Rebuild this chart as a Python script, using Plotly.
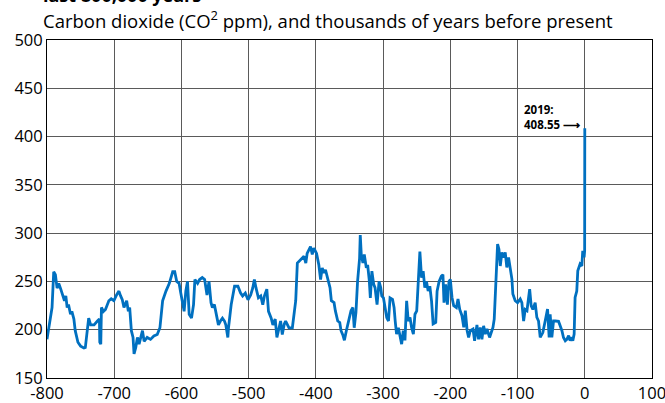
import plotly.graph_objects as go

# thousands of years before present (negative = past)
years = [
    -800, -796, -792.5, -790, -787.5, -785, -782.5, -780, -777.6, -774, -772, -770, -768, -765, -763,
    -760, -758, -754, -750, -745, -743, -740, -738, -735, -730, -725, -722, -721.5, -720, -719, -716,
    -713, -708, -704.5, -700.5, -696.5, -693, -690.5, -688, -685.5, -681.5, -679, -677, -674.5, -672,
    -670.5, -668, -665.5, -663, -658, -655.5, -651, -646, -641, -636, -632, -628, -623, -618, -613,
    -610, -607, -603.5, -601, -598.5, -596, -593.5, -591, -588.5, -585, -582, -580, -576, -573, -569,
    -565.5, -562, -559, -556, -554, -551, -549, -545, -542, -539, -536, -534, -531, -530, -526, -521,
    -516, -512, -509, -505, -501, -497, -494, -491.5, -489, -485.5, -482, -479, -476.5, -473, -470.5,
    -466.5, -464, -460.5, -458, -455, -452.5, -450, -447, -445, -440, -435, -431.5, -430, -427.6,
    -422.7, -417.7, -415, -413, -408, -405.4, -403, -399, -395.6, -393, -390.6, -388, -385.7, -383,
    -379, -377, -373, -371, -367.5, -364.5, -362.6, -359.6, -357.6, -354.7, -351, -347.8, -345, -343,
    -340.4, -338, -335, -334, -332.5, -330, -328, -325, -323, -320.7, -319, -316.7, -314, -312, -309,
    -306, -303.5, -302, -299.5, -297, -294.6, -292, -289.7, -286, -283.7, -282, -280, -277.3, -275,
    -272.4, -270, -267.5, -265, -262.6, -260, -257.6, -255, -252.6, -250, -247.8, -245.3, -242.8,
    -240.4, -238, -235.5, -233, -230.5, -228, -225.6, -221.7, -219.7, -216.7, -213.3, -211, -209.4,
    -207, -204.4, -202, -200, -197.5, -195, -191, -188.6, -186, -182.7, -180, -177.7, -175, -172.8,
    -170.3, -166.3, -163.9, -160.4, -158, -155.4, -153, -150.5, -148, -145.5, -141.6, -139, -136.6,
    -134.7, -132, -129.7, -127.7, -125.7, -123.3, -121, -118.3, -116, -113.4, -111, -108.4, -107,
    -103.5, -100, -96, -93.6, -91, -88.6, -86, -82, -79.7, -77.2, -73.8, -71.3, -68.8, -66.3, -62.4,
    -58.9, -55.4, -53, -51.5, -49, -46.5, -44, -39, -36.6, -34, -31.7, -29, -26.7, -24, -21.8, -19.3,
    -17.8, -15.8, -14.4, -11.9, -10.4, -7, -4.4, -3, -1, -0.2, 0,
]

# carbon dioxide, ppm
co2 = [
    190, 209, 223, 260, 257, 243, 248, 243, 238, 230, 235, 223, 226, 216, 219,
    211, 199, 187, 183, 181, 181.5, 199, 212, 205, 205, 209, 211, 187, 185, 223, 219,
    221, 230, 232, 230, 236, 240, 235, 231, 223, 230, 219, 223, 199, 192,
    175, 181.5, 192, 185, 199, 188, 192, 190, 193.5, 195, 202, 230, 240, 248, 260,
    260, 250, 248, 238, 230, 219, 240, 250, 216, 212, 226, 252, 248, 252, 254,
    252, 236, 250, 228, 223, 226, 219, 205, 209, 212, 209, 205, 192, 202, 226, 245,
    245, 238, 235, 238, 231, 236, 243, 252, 243, 233, 235, 226, 235, 242, 219,
    212, 205, 211, 192, 202, 209, 195, 206, 209, 202, 202, 220, 230, 269,
    272.6, 276, 269, 279, 286, 278, 284.6, 279, 267, 252, 264, 259, 262, 254,
    243.5, 230, 228, 219.5, 209, 207.5, 199, 194, 189, 199, 209, 219.5, 223, 202,
    218, 250, 274, 298, 278, 269, 278, 264, 267, 252, 233, 260.6, 247, 243.5, 226,
    250, 243.5, 235, 233, 223, 212.7, 209, 233, 231.5, 223, 209, 195.5, 202, 192,
    185, 199, 189, 230, 209, 212.7, 202, 195.5, 216, 219.5, 243.5, 281, 253.8,
    260.6, 243.5, 250, 240, 245, 230, 206, 207.5, 240, 250, 255.5, 257, 228,
    247, 226, 250, 252, 233.4, 225, 223, 231.7, 221, 214.5, 202.4, 219.7, 199, 192,
    199, 200.7, 188.6, 205, 190, 202.4, 190, 204, 195.5, 200.7, 192, 199, 202.4,
    211, 249, 288.6, 283.4, 266, 280, 274.8, 280, 264.5, 274.8, 261, 252.4, 237,
    230, 228, 231.7, 228, 209, 221, 219.7, 242, 224.8, 221, 228, 212.8, 209, 192, 197,
    209, 221.4, 192, 216, 192, 209, 209, 208.6, 204, 199, 192, 188.6, 190, 193.8, 188.6, 192,
    188.6, 195.5, 233.4, 240, 261, 268, 266, 281.7, 275, 281.7, 408.55,
]

x_ticks = [-800, -700, -600, -500, -400, -300, -200, -100, 0, 100]
y_ticks = [150, 200, 250, 300, 350, 400, 450, 500]

title_text = "last 800,000 years"
subtitle_text = "Carbon dioxide (CO<sup>2</sup> ppm), and thousands of years before present"
label_text = "2019:<br>408.55 ⟶"
label_x, label_y = -93, 420

FONT = "Open Sans"
GRID = "#5a5a5a"

fig = go.Figure()
fig.add_trace(go.Scatter(
    x=years, y=co2, mode="lines",
    line=dict(color="#0070C0", width=2.8),
    hoverinfo="skip",
))

fig.update_layout(
    width=665, height=403,
    margin=dict(l=47, r=13, t=40, b=25, autoexpand=False),
    paper_bgcolor="white", plot_bgcolor="white",
    showlegend=False,
    font=dict(family=FONT, size=16, color="#000000"),
    xaxis=dict(
        range=[-800, 100], tickvals=x_ticks, ticktext=[str(v) for v in x_ticks],
        showgrid=True, gridcolor=GRID, gridwidth=1,
        showline=True, linecolor="#000000", linewidth=1, mirror=True,
        zeroline=False, ticks="", automargin=False, ticklabeloverflow="allow",
        tickfont=dict(family=FONT, size=16.5),
    ),
    yaxis=dict(
        range=[150, 500], tickvals=y_ticks, ticktext=[str(v) for v in y_ticks],
        showgrid=True, gridcolor=GRID, gridwidth=1,
        showline=True, linecolor="#000000", linewidth=1, mirror=True,
        zeroline=False, ticks="", automargin=False, ticklabeloverflow="allow",
        tickfont=dict(family=FONT, size=16.5),
    ),
    annotations=[
        dict(text="<b>" + title_text + "</b>", xref="paper", yref="paper",
             x=-0.01, y=1 + 31 / 338, xanchor="left", yanchor="bottom",
             showarrow=False, font=dict(family=FONT, size=18)),
        dict(text=subtitle_text, xref="paper", yref="paper",
             x=-0.01, y=1 + 20 / 338, xanchor="left", yanchor="middle",
             showarrow=False, font=dict(family=FONT, size=18.5)),
        dict(text="<b>" + label_text + "</b>", xref="x", yref="y",
             x=label_x, y=label_y, xanchor="left", yanchor="middle", align="left",
             showarrow=False, font=dict(family=FONT, size=11.5)),
    ],
)

fig.write_html("out.html")
